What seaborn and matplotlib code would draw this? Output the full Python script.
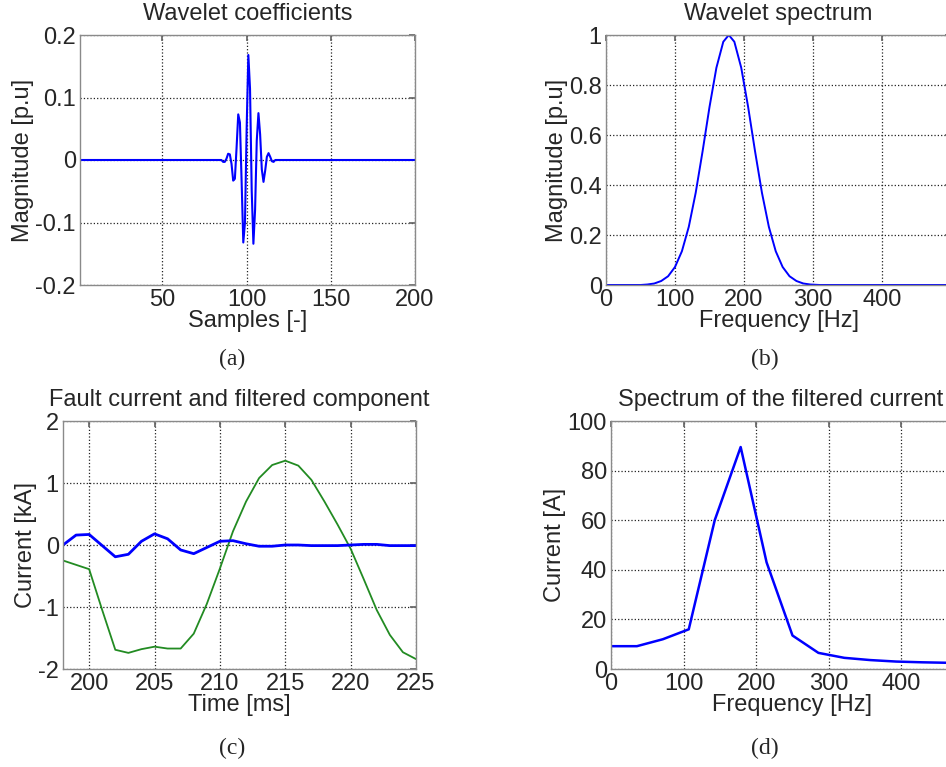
import numpy as np
import pandas as pd
import matplotlib
matplotlib.use("Agg")
import matplotlib.pyplot as plt
import seaborn as sns

# (a) wavelet coefficients, non-zero part (samples 86..116), zero elsewhere
coef_samples = [1, 85, 86, 87, 88, 89, 90, 91, 92, 93, 94, 95, 96, 97, 98, 99, 100,
                101, 102, 103, 104, 105, 106, 107, 108, 109, 110, 111, 112, 113,
                114, 115, 116, 117, 200]
coef_values = [0, 0, -0.003, -0.003, 0.002, 0.010, 0.009, -0.006, -0.033, -0.030,
               0.019, 0.073, 0.060, -0.034, -0.132, -0.100, 0.051, 0.168, 0.114,
               -0.049, -0.134, -0.080, 0.031, 0.075, 0.041, -0.015, -0.035, -0.017,
               0.005, 0.011, 0.005, -0.002, -0.003, 0, 0]

# (b) wavelet spectrum
spec_freq = [0, 50, 60, 70, 80, 90, 100, 110, 120, 130, 140, 150, 160, 170, 178,
             186, 196, 206, 216, 226, 236, 246, 256, 266, 276, 286, 296, 310, 460, 500]
spec_mag = [0, 0, 0.002, 0.006, 0.016, 0.035, 0.072, 0.135, 0.233, 0.369, 0.535,
            0.712, 0.869, 0.973, 1.0, 0.973, 0.869, 0.712, 0.535, 0.369, 0.233,
            0.135, 0.072, 0.035, 0.016, 0.006, 0.002, 0, 0, 0]

# (c) fault current and filtered component
time_ms = [198, 199, 200, 201, 202, 203, 204, 205, 206, 207, 208, 209, 210, 211,
           212, 213, 214, 215, 216, 217, 218, 219, 220, 221, 222, 223, 224, 225]
fault_ka = [-0.25, -0.32, -0.39, -1.05, -1.69, -1.74, -1.68, -1.64, -1.67, -1.67,
            -1.43, -0.95, -0.38, 0.22, 0.70, 1.08, 1.29, 1.36, 1.28, 1.05, 0.70,
            0.33, -0.06, -0.55, -1.05, -1.45, -1.73, -1.84]
filtered_ka = [0.0, 0.16, 0.17, -0.01, -0.19, -0.15, 0.06, 0.18, 0.10, -0.08, -0.14,
               -0.04, 0.06, 0.07, 0.02, -0.02, -0.02, 0.0, 0.0, -0.01, -0.01, -0.01,
               0.0, 0.01, 0.01, -0.01, -0.01, -0.01]

# (d) spectrum of the filtered current
filt_freq = [0, 35.7, 71.4, 107.1, 142.9, 178.6, 214.3, 250, 285.7, 321.4, 357.1,
             392.9, 428.6, 464.3, 500]
filt_amp = [9.2, 9.2, 12, 16, 60, 89.5, 43, 13.5, 6.5, 4.5, 3.6, 3.0, 2.7, 2.5, 2.4]

sns.set_theme(style="white")
plt.rcParams['font.family'] = ['Liberation Sans', 'DejaVu Sans']
FS = 17

fig = plt.figure(figsize=(9.46, 7.67), dpi=100)
W, H = 946, 767

def box(l, r, t, b):
    return [l / W, 1 - b / H, (r - l) / W, (b - t) / H]

ax_a = fig.add_axes(box(80, 415, 35, 285))
ax_b = fig.add_axes(box(606, 951, 35, 285))
ax_c = fig.add_axes(box(63, 416, 421, 669))
ax_d = fig.add_axes(box(611, 974, 421, 669))

blue = '#0000ff'
green = '#228b22'

sns.lineplot(x=coef_samples, y=coef_values, ax=ax_a, color=blue, lw=1.5)
sns.lineplot(x=spec_freq, y=spec_mag, ax=ax_b, color=blue, lw=1.4)
df_c = pd.DataFrame({'t': time_ms, 'fault': fault_ka, 'filt': filtered_ka})
sns.lineplot(data=df_c, x='t', y='fault', ax=ax_c, color=green, lw=1.3)
sns.lineplot(data=df_c, x='t', y='filt', ax=ax_c, color=blue, lw=2.0)
sns.lineplot(x=filt_freq, y=filt_amp, ax=ax_d, color=blue, lw=1.8)

ax_a.set_xlim(1, 200)
ax_a.set_ylim(-0.2, 0.2)
ax_a.set_xticks([50, 100, 150, 200])
ax_a.set_yticks([-0.2, -0.1, 0, 0.1, 0.2])
ax_a.set_yticklabels(['-0.2', '-0.1', '0', '0.1', '0.2'])

ax_b.set_xlim(0, 500)
ax_b.set_ylim(0, 1)
ax_b.set_xticks([0, 100, 200, 300, 400])
ax_b.set_yticks([0, 0.2, 0.4, 0.6, 0.8, 1])
ax_b.set_yticklabels(['0', '0.2', '0.4', '0.6', '0.8', '1'])

ax_c.set_xlim(198, 225)
ax_c.set_ylim(-2, 2)
ax_c.set_xticks([200, 205, 210, 215, 220, 225])
ax_c.set_yticks([-2, -1, 0, 1, 2])
ax_c.set_yticklabels(['-2', '-1', '0', '1', '2'])

ax_d.set_xlim(0, 500)
ax_d.set_ylim(0, 100)
ax_d.set_xticks([0, 100, 200, 300, 400])
ax_d.set_yticks([0, 20, 40, 60, 80, 100])

titles = ['Wavelet coefficients', 'Wavelet spectrum',
          'Fault current and filtered component', 'Spectrum of the filtered current']
xlabels = ['Samples [-]', 'Frequency [Hz]', 'Time [ms]', 'Frequency [Hz]']
ylabels = ['Magnitude [p.u]', 'Magnitude [p.u]', 'Current [kA]', 'Current [A]']

for ax, ti, xl, yl in zip([ax_a, ax_b, ax_c, ax_d], titles, xlabels, ylabels):
    ax.grid(True, linestyle=':', color='#222222', lw=0.9)
    ax.tick_params(direction='in', top=True, right=True, labelsize=FS,
                   length=4, color='#666666', pad=3)
    for s in ax.spines.values():
        s.set_color('#8a8a8a')
        s.set_linewidth(1.0)
    ax.set_xlabel(xl, fontsize=FS, labelpad=-1)
    ax.set_ylabel(yl, fontsize=FS, labelpad=1)
    ax.set_title(ti, fontsize=FS, pad=11)

ax_d.title.set_x(0.466)

serif = ['Liberation Serif', 'DejaVu Serif']
for lab, x, y in [('(a)', 232, 359), ('(b)', 765, 359), ('(c)', 232, 748), ('(d)', 765, 748)]:
    fig.text(x / W, 1 - y / H, lab, ha='center', va='center', fontsize=FS,
             family=serif)

fig.savefig('out.png', dpi=100)
